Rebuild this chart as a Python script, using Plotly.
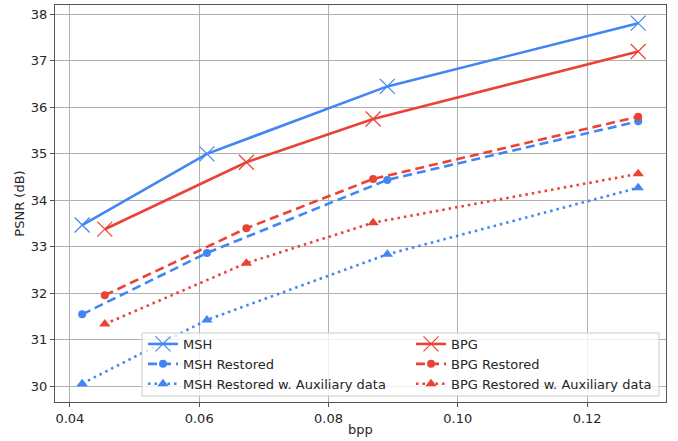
import plotly.graph_objects as go

BLUE = "#4285F4"
RED = "#EA4335"

msh_bpp = [0.0419, 0.0612, 0.0891, 0.1279]
bpg_bpp = [0.0454, 0.0673, 0.0869, 0.1279]

msh_psnr = [33.47, 35.00, 36.45, 37.81]
bpg_psnr = [33.38, 34.82, 35.75, 37.20]
msh_restored = [31.55, 32.87, 34.44, 35.70]
bpg_restored = [31.96, 33.40, 34.46, 35.80]
msh_aux = [30.06, 31.43, 32.84, 34.27]
bpg_aux = [31.34, 32.65, 33.52, 34.57]

x_ticks = [0.04, 0.06, 0.08, 0.10, 0.12]
x_ticklabels = ["0.04", "0.06", "0.08", "0.10", "0.12"]
y_ticks = [30, 31, 32, 33, 34, 35, 36, 37, 38]

fig = go.Figure()

def add(name, x, y, color, dash, symbol, size, legend, mlw=0):
    marker = dict(symbol=symbol, size=size, color=color)
    if mlw:
        marker["line"] = dict(color=color, width=mlw)
    fig.add_trace(go.Scatter(
        x=x, y=y, name=name, mode="lines+markers",
        line=dict(color=color, width=2.6, dash=dash),
        marker=marker, legend=legend,
    ))

add("MSH", msh_bpp, msh_psnr, BLUE, "solid", "x-thin-open", 15, "legend", 1.2)
add("MSH Restored", msh_bpp, msh_restored, BLUE, "9px,5px", "circle", 8, "legend")
add("MSH Restored w. Auxiliary data", msh_bpp, msh_aux, BLUE, "2.5px,4px", "triangle-up", 10, "legend")
add("BPG", bpg_bpp, bpg_psnr, RED, "solid", "x-thin-open", 15, "legend2", 1.2)
add("BPG Restored", bpg_bpp, bpg_restored, RED, "9px,5px", "circle", 8, "legend2")
add("BPG Restored w. Auxiliary data", bpg_bpp, bpg_aux, RED, "2.5px,4px", "triangle-up", 10, "legend2")

axis_common = dict(
    showgrid=True, gridcolor="#b0b0b0", gridwidth=0.8,
    showline=True, linecolor="#555555", linewidth=1, mirror=True,
    ticks="outside", ticklen=4, tickcolor="#555555",
    zeroline=False, automargin=False,
    tickfont=dict(family="DejaVu Sans", size=13, color="#262626"),
)

L, R, T, B = 55, 12, 5, 39
W, H = 678, 441
pw, ph = W - L - R, H - T - B

def px_x(p):
    return (p - L) / pw

def px_y(p):
    return (H - B - p) / ph

legend_common = dict(
    orientation="v", xanchor="left", yanchor="top",
    bgcolor="rgba(0,0,0,0)", borderwidth=0,
    font=dict(size=13), tracegroupgap=0, itemwidth=30,
)

fig.update_layout(
    width=W, height=H,
    margin=dict(l=L, r=R, t=T, b=B),
    paper_bgcolor="white", plot_bgcolor="white",
    font=dict(family="DejaVu Sans", size=13, color="#262626"),
    xaxis=dict(range=[0.0377, 0.1322], tickvals=x_ticks, ticktext=x_ticklabels,
               title=dict(text="bpp", standoff=0, font=dict(size=13)), **axis_common),
    yaxis=dict(range=[29.665, 38.2], tickvals=y_ticks,
               title=dict(text="PSNR (dB)", standoff=3, font=dict(size=13)), **axis_common),
    legend=dict(x=px_x(143), y=px_y(329), **legend_common),
    legend2=dict(x=px_x(411), y=px_y(329), **legend_common),
    shapes=[dict(type="rect", xref="paper", yref="paper",
                 x0=px_x(142), x1=px_x(659), y0=px_y(396), y1=px_y(333),
                 fillcolor="rgba(255,255,255,0.8)", line=dict(color="#cccccc", width=1),
                 layer="above")],
)

fig.write_html("out.html", config={"displayModeBar": False},
               post_script="document.body.style.margin='0';")
